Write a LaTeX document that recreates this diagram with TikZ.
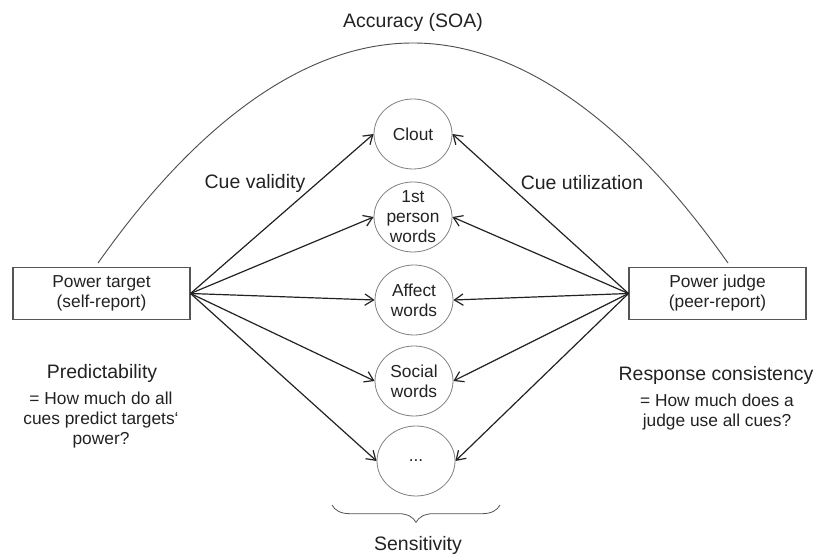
\documentclass[tikz,border=0pt]{standalone}
\usepackage{fontspec}
\setmainfont{Liberation Sans}
\usetikzlibrary{shapes.geometric,arrows.meta,decorations.pathreplacing}
\definecolor{ink}{HTML}{222222}
\definecolor{boxgray}{HTML}{555555}
\definecolor{cuegray}{HTML}{808080}
\definecolor{arcgray}{HTML}{505050}
\begin{document}
\begin{tikzpicture}[x=0.75pt,y=-0.75pt,
  small/.style={font=\fontsize{13}{15}\selectfont, align=center, text=ink, inner sep=0pt},
  big/.style={font=\fontsize{14.6}{17}\selectfont, align=center, text=ink, inner sep=0pt},
  box/.style={draw=boxgray, line width=0.8pt, minimum width=132.75pt, minimum height=39pt, inner sep=0pt, small},
  cue/.style={ellipse, draw=cuegray, line width=0.6pt, minimum width=58.5pt, minimum height=52.5pt, inner sep=0pt},
  arr/.style={draw=ink, line width=0.9pt, -{Straight Barb[length=6.5pt,width=8.5pt]}},
  arcline/.style={draw=arcgray, line width=0.7pt}]
\useasboundingbox (0,0) rectangle (817,555);
% boxes
\node[box] (tgt) at (101.5,293.5) {Power target\\(self-report)};
\node[box] (jdg) at (717.5,293.5) {Power judge\\(peer-report)};
% cues
\node[cue, label={[small]center:Clout}] (c1) at (413,134) {};
\node[cue, label={[small]center:1st\\person\\words}] (c2) at (413,217) {};
\node[cue, label={[small]center:Affect\\words}] (c3) at (414,300) {};
\node[cue, label={[small]center:Social\\words}] (c4) at (414,381) {};
\node[cue, label={[small]center:...}] (c5) at (416,461) {};
% arrows
\foreach \c in {c1,c2,c3,c4,c5} {
  \draw[arr] (tgt.east) -- (\c.west);
  \draw[arr] (jdg.west) -- (\c.east);
}
% accuracy arc
\coordinate (al) at (98,263);
\coordinate (ap) at (413,43);
\coordinate (ar) at (728,263);
\draw[arcline] (al) parabola bend (ap) (ar);
% labels
\node[big] (acc) at (413,22) {Accuracy (SOA)};
\node[big] (cv) at (255,183) {Cue validity};
\node[big] (cu) at (582,183) {Cue utilization};
\node[big] (pred) at (102,373) {Predictability};
\node[small] (predq) at (101,420) {= How much do all\\cues predict targets‘\\power?};
\node[big] (resp) at (716,375) {Response consistency};
\node[small] (respq) at (717,412) {= How much does a\\judge use all cues?};
% brace
\coordinate (bl) at (332,505);
\coordinate (br) at (500,505);
\draw[draw=boxgray, line width=0.6pt, decorate, decoration={brace, mirror, amplitude=13pt}] (bl) -- (br);
\node[big] (sens) at (418,545) {Sensitivity};
\end{tikzpicture}
\end{document}
